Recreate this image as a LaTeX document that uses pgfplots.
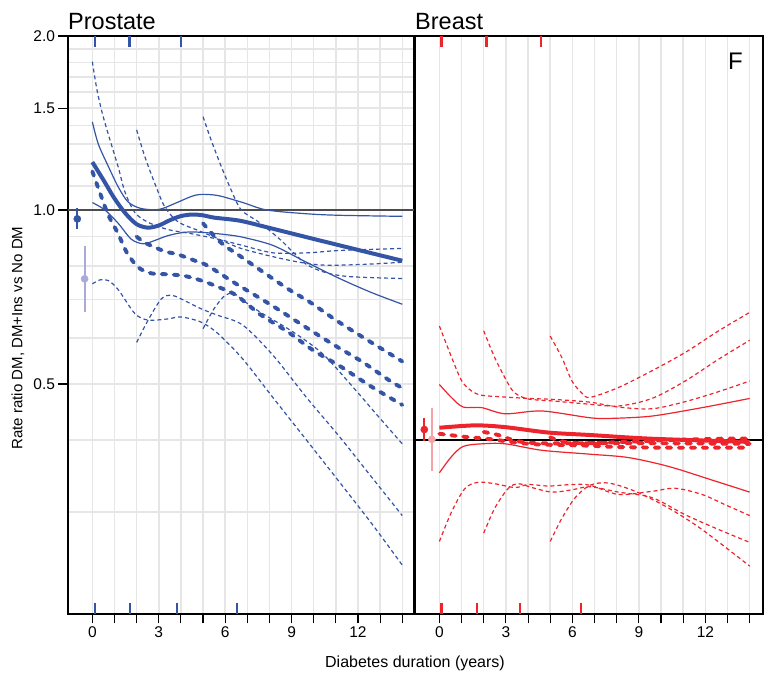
\documentclass[border=0pt]{standalone}
\usepackage{fontspec}
\setmainfont{Liberation Sans}
\usepackage{pgfplots}
\pgfplotsset{compat=1.18}

\definecolor{pblue}{RGB}{52,84,166}
\definecolor{plav}{RGB}{170,170,218}
\definecolor{bred}{RGB}{238,36,44}
\definecolor{bpink}{RGB}{244,164,168}
\definecolor{gridg}{RGB}{230,230,230}

\tikzset{
  myest/.style={line width=4pt, smooth, tension=0.5},
  myci/.style={line width=1.2pt, smooth, tension=0.5},
  myestd/.style={line width=3.9pt, dash pattern=on 4.5pt off 7.5pt, line cap=round, smooth, tension=0.5},
  mycid/.style={line width=1.2pt, dash pattern=on 4pt off 3pt, smooth, tension=0.5},
}

\begin{document}
\begin{tikzpicture}
\path[use as bounding box] (0,0) rectangle (768pt,674pt);

% ---------------- Prostate ----------------
\begin{axis}[
  at={(68pt,60pt)}, anchor=south west,
  scale only axis, width=346pt, height=578pt,
  xmin=-1.1, xmax=14.53,
  ymode=log, ymin=0.2, ymax=2,
  xtick={0,1,2,3,4,5,6,7,8,9,10,11,12,13,14},
  xticklabels={0,{},{},3,{},{},6,{},{},9,{},{},12,{},{}},
  ytick={0.5,1,1.5,2}, yticklabels={0.5,1.0,1.5,2.0},
  minor ytick={0.2,0.3,0.4,0.6,0.7,0.8,0.9,1.1,1.2,1.3,1.4,1.6,1.7,1.8,1.9},
  xmajorgrids=true, ymajorgrids=true, yminorgrids=true,
  grid style={gridg, line width=1.5pt},
  tick align=outside, xtick pos=left, ytick pos=left,
  major tick length=9.5pt, minor tick length=0pt,
  tick style={black, line width=1.1pt},
  axis line style={black, line width=1.5pt},
  tick label style={font=\fontsize{15.5}{18}\selectfont},
]
\addplot[draw=black!70, line width=1.4pt] coordinates {(-1.1,1)(14.53,1)};
% insulin CIs
\addplot[mycid, pblue] coordinates {(0,1.806)(0.2,1.62)(0.45,1.47)(0.75,1.34)(1.17,1.186)(1.47,1.075)(1.92,0.99)(2.52,0.952)(3.42,0.925)(4.46,0.91)(5.68,0.89)(6.8,0.868)(8.17,0.843)(9.7,0.843)(11.17,0.851)(14,0.858)};
\addplot[mycid, pblue] coordinates {(2.0,1.376)(2.37,1.237)(2.82,1.112)(3.27,1.013)(3.87,0.954)(4.77,0.922)(5.68,0.892)(6.8,0.856)(8.92,0.818)(10.4,0.803)(12.2,0.805)(14,0.812)};
\addplot[mycid, pblue] coordinates {(5.0,1.45)(5.37,1.32)(5.82,1.19)(6.27,1.083)(6.73,1.0)(7.57,0.95)(8.47,0.89)(9.07,0.845)(9.67,0.805)(10.5,0.78)(11.6,0.767)(14,0.761)};
\addplot[mycid, pblue] coordinates {(0,0.745)(0.35,0.757)(0.72,0.755)(1.17,0.728)(1.92,0.662)(2.52,0.645)(3.42,0.648)(4.0,0.653)(4.9,0.64)(5.68,0.611)(6.8,0.552)(8.17,0.473)(9.67,0.40)(11.17,0.338)(12.67,0.285)(14,0.243)};
\addplot[mycid, pblue] coordinates {(2.0,0.59)(2.52,0.645)(3.12,0.702)(3.57,0.712)(4.0,0.702)(4.9,0.675)(5.68,0.657)(6.8,0.632)(8.17,0.56)(9.67,0.474)(11.17,0.405)(12.67,0.343)(14,0.296)};
\addplot[mycid, pblue] coordinates {(5.0,0.623)(5.5,0.675)(6.0,0.712)(6.4,0.717)(6.8,0.698)(7.6,0.665)(9.07,0.615)(10.4,0.564)(11.77,0.494)(12.97,0.437)(14,0.394)};
% DM CI
\addplot[myci, pblue] coordinates {(0,1.42)(0.27,1.30)(0.72,1.19)(1.17,1.096)(1.62,1.032)(2.2,1.006)(3,1.002)(3.72,1.026)(4.46,1.055)(4.9,1.064)(5.68,1.059)(6.8,1.03)(7.87,1.0)(9.67,0.985)(11.17,0.979)(14,0.975)};
\addplot[myci, pblue] coordinates {(0,1.03)(0.57,1.0)(1.17,0.948)(1.76,0.89)(2.3,0.874)(2.8,0.885)(3.42,0.903)(4.17,0.915)(4.9,0.915)(5.97,0.907)(6.8,0.897)(8.17,0.868)(9.67,0.812)(11.17,0.761)(12.6,0.72)(14,0.687)};
% insulin estimates
\addplot[myestd, pblue] coordinates {(0,1.166)(0.35,1.069)(0.72,0.98)(1.17,0.909)(1.55,0.845)(2.07,0.796)(2.67,0.777)(3.42,0.774)(4.17,0.769)(4.92,0.755)(5.68,0.736)(6.5,0.712)(7.57,0.66)(8.84,0.615)(9.97,0.572)(11.25,0.535)(12.52,0.497)(14,0.46)};
\addplot[myestd, pblue] coordinates {(2.0,0.899)(2.45,0.875)(3.27,0.848)(3.85,0.838)(4.71,0.815)(5.23,0.80)(6.5,0.745)(8.1,0.684)(9.75,0.623)(10.95,0.583)(12.2,0.546)(13.42,0.507)(14,0.492)};
\addplot[myestd, pblue] coordinates {(5.0,0.948)(5.53,0.899)(6.0,0.866)(6.6,0.836)(8.1,0.763)(8.92,0.727)(9.82,0.693)(11.0,0.645)(12.2,0.603)(14,0.547)};
% DM estimate
\addplot[myest, pblue] coordinates {(0,1.21)(0.5,1.127)(1,1.047)(1.5,0.986)(2,0.945)(2.5,0.932)(3,0.94)(3.5,0.96)(4,0.976)(4.5,0.982)(5,0.979)(5.5,0.97)(6.67,0.958)(8,0.931)(10,0.891)(12,0.853)(14,0.817)};
% overall estimates
\addplot[pblue, line width=2.2pt] coordinates {(-0.68,1.009)(-0.68,0.928)};
\addplot[only marks, mark=*, mark size=3.6pt, pblue] coordinates {(-0.68,0.965)};
\addplot[plav, line width=2.2pt] coordinates {(-0.35,0.868)(-0.35,0.665)};
\addplot[only marks, mark=*, mark size=3.6pt, plav] coordinates {(-0.35,0.76)};
% rugs
\addplot[only marks, mark=|, mark size=5.5pt, line width=2.4pt, pblue] coordinates {(0.13,1.957)(1.67,1.957)(4.0,1.957)};
\addplot[only marks, mark=|, mark size=5.5pt, line width=2.4pt, pblue] coordinates {(0.13,0.2045)(1.7,0.2045)(3.83,0.2045)(6.53,0.2045)};
\end{axis}

% ---------------- Breast ----------------
\begin{axis}[
  at={(415pt,60pt)}, anchor=south west,
  scale only axis, width=348pt, height=578pt,
  xmin=-1.1, xmax=14.6,
  ymode=log, ymin=0.2, ymax=2,
  xtick={0,1,2,3,4,5,6,7,8,9,10,11,12,13,14},
  xticklabels={0,{},{},3,{},{},6,{},{},9,{},{},12,{},{}},
  ytick=\empty,
  minor ytick={0.2,0.3,0.4,0.5,0.6,0.7,0.8,0.9,1,1.1,1.2,1.3,1.4,1.5,1.6,1.7,1.8,1.9},
  xmajorgrids=true, yminorgrids=true,
  grid style={gridg, line width=1.5pt},
  tick align=outside, xtick pos=left, ytick pos=left,
  major tick length=9.5pt, minor tick length=0pt,
  tick style={black, line width=1.1pt},
  axis line style={black, line width=1.5pt},
  tick label style={font=\fontsize{15.5}{18}\selectfont},
]
\addplot[draw=black, line width=1.4pt] coordinates {(-1.1,0.4)(14.6,0.4)};
\addplot[mycid, bred] coordinates {(0,0.63)(0.56,0.555)(1.01,0.506)(1.46,0.486)(1.91,0.478)(2.82,0.475)(4.02,0.472)(5.22,0.47)(6.8,0.465)(8.08,0.456)(9.59,0.453)(11.09,0.466)(12.6,0.485)(14,0.506)};
\addplot[mycid, bred] coordinates {(2.0,0.618)(2.5,0.555)(3.11,0.5)(3.42,0.482)(4.0,0.471)(5.2,0.467)(6.58,0.462)(8.08,0.458)(9.59,0.472)(11.09,0.506)(12.6,0.552)(14,0.595)};
\addplot[mycid, bred] coordinates {(5.0,0.605)(5.53,0.555)(5.98,0.506)(6.43,0.482)(6.8,0.474)(8.08,0.493)(9.59,0.527)(11.09,0.567)(12.6,0.618)(14,0.665)};
\addplot[mycid, bred] coordinates {(0,0.267)(0.56,0.301)(1.16,0.33)(1.76,0.338)(2.51,0.336)(3.42,0.331)(4.02,0.335)(4.92,0.333)(5.98,0.335)(6.8,0.334)(8.08,0.322)(9.59,0.326)(10.64,0.33)(11.85,0.322)(12.9,0.309)(14,0.296)};
\addplot[mycid, bred] coordinates {(2.0,0.276)(2.5,0.305)(3.11,0.33)(3.57,0.336)(4.17,0.331)(5.08,0.325)(5.98,0.328)(6.8,0.332)(8.08,0.325)(9.59,0.318)(11.09,0.297)(12.6,0.28)(14,0.266)};
\addplot[mycid, bred] coordinates {(5.0,0.267)(5.53,0.293)(6.13,0.318)(6.8,0.334)(7.63,0.337)(8.84,0.326)(10.34,0.305)(11.85,0.28)(14,0.242)};
\addplot[myci, bred] coordinates {(0,0.499)(0.56,0.473)(1.08,0.456)(1.91,0.455)(2.97,0.444)(4.62,0.449)(6.8,0.437)(7.78,0.436)(9.59,0.44)(11.85,0.455)(14,0.472)};
\addplot[myci, bred] coordinates {(0,0.351)(0.56,0.375)(1.08,0.39)(1.91,0.394)(2.97,0.394)(4.62,0.384)(6.8,0.378)(8.53,0.373)(10.34,0.36)(12.3,0.341)(14,0.325)};
\addplot[myestd, bred] coordinates {(0,0.41)(1.16,0.405)(2.37,0.401)(3.42,0.396)(4.47,0.393)(5.67,0.392)(6.8,0.391)(8.08,0.389)(10.34,0.388)(12.6,0.388)(14,0.388)};
\addplot[myestd, bred] coordinates {(2.0,0.413)(2.66,0.408)(3.42,0.399)(4.47,0.395)(6.8,0.395)(9.59,0.395)(14,0.394)};
\addplot[myestd, bred] coordinates {(5.0,0.404)(5.67,0.397)(6.8,0.395)(9.59,0.399)(12.6,0.402)(14,0.402)};
\addplot[myest, bred] coordinates {(0,0.42)(1.61,0.424)(2.97,0.421)(4.92,0.412)(6.8,0.408)(9.59,0.402)(14,0.397)};
\addplot[bred, line width=2.2pt] coordinates {(-0.68,0.437)(-0.68,0.398)};
\addplot[only marks, mark=*, mark size=3.6pt, bred] coordinates {(-0.68,0.417)};
\addplot[bpink, line width=2.2pt] coordinates {(-0.34,0.454)(-0.34,0.353)};
\addplot[only marks, mark=*, mark size=3.6pt, bpink] coordinates {(-0.34,0.401)};
\addplot[only marks, mark=|, mark size=5.5pt, line width=2.4pt, bred] coordinates {(0.1,1.957)(2.12,1.957)(4.58,1.957)};
\addplot[only marks, mark=|, mark size=5.5pt, line width=2.4pt, bred] coordinates {(0.1,0.2045)(1.69,0.2045)(3.63,0.2045)(6.4,0.2045)};
\end{axis}

\node[anchor=base west, inner sep=0, font=\fontsize{23.5}{28}\selectfont] at (68pt,644pt) {Prostate};
\node[anchor=base west, inner sep=0, font=\fontsize{23.5}{28}\selectfont] at (415pt,644pt) {Breast};
\node[anchor=base west, inner sep=0, font=\fontsize{24}{28}\selectfont] at (728pt,604pt) {F};
\node[rotate=90, inner sep=0, font=\fontsize{15}{18}\selectfont] at (18pt,336pt) {Rate ratio DM, DM+Ins vs No DM};
\node[anchor=base, inner sep=0, font=\fontsize{16}{19}\selectfont] at (415pt,6pt) {Diabetes duration (years)};
\end{tikzpicture}
\end{document}
